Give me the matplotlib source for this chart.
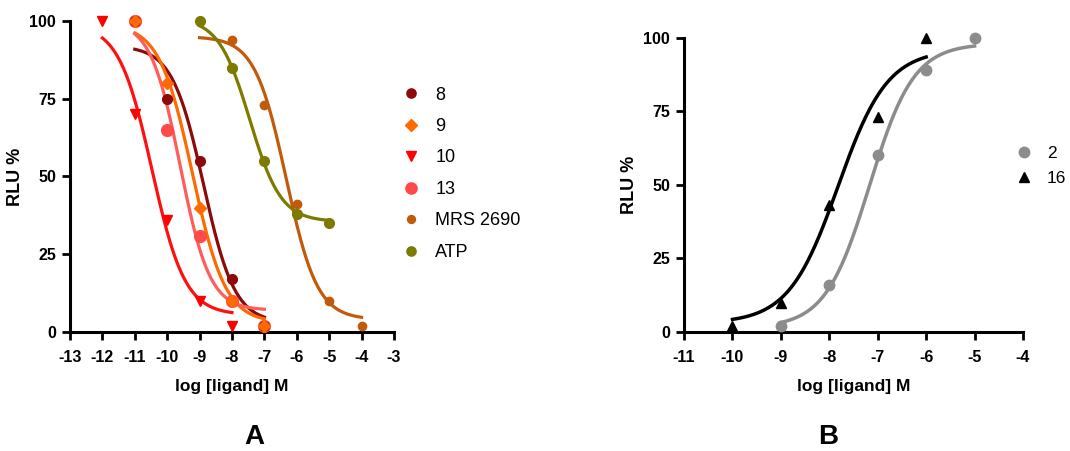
import numpy as np
import matplotlib
matplotlib.use("Agg")
import matplotlib.pyplot as plt

plt.rcParams['font.family'] = ['Liberation Sans', 'DejaVu Sans']
plt.rcParams['axes.unicode_minus'] = False

# ---------------- Panel A data ----------------
a_labels = ["8", "9", "10", "13", "MRS 2690", "ATP"]
a_x = {
    "8": [-11, -10, -9, -8, -7],
    "9": [-11, -10, -9, -8, -7],
    "10": [-12, -11, -10, -9, -8],
    "13": [-11, -10, -9, -8, -7],
    "MRS 2690": [-8, -7, -6, -5, -4],
    "ATP": [-9, -8, -7, -6, -5],
}
a_y = {
    "8": [100, 75, 55, 17, 2],
    "9": [100, 80, 40, 10, 2],
    "10": [100, 70, 36, 10, 2],
    "13": [100, 65, 31, 10, 2],
    "MRS 2690": [94, 73, 41, 10, 2],
    "ATP": [100, 85, 55, 38, 35],
}
# fitted 4PL curve parameters: bottom, top, logIC50, hill slope, x-start, x-end
a_fit = {
    "8": [3, 92, -8.88, -0.9, -11, -7],
    "9": [3, 99, -9.22, -0.85, -11, -7],
    "10": [5.5, 99, -10.47, -0.85, -12, -8],
    "13": [7, 100, -9.6, -0.95, -11, -7],
    "MRS 2690": [4, 95, -6.33, -0.9, -9, -4],
    "ATP": [35.5, 101, -7.45, -0.9, -9, -5],
}
a_colors = {
    "8": "#8b0a0a", "9": "#ff6a00", "10": "#ff0000", "13": "#ff4a4a",
    "MRS 2690": "#c25a0c", "ATP": "#7d7a00",
}
a_line_colors = {
    "8": "#8b0a0a", "9": "#ff6a00", "10": "#ff1010", "13": "#ff5c5c",
    "MRS 2690": "#c25a0c", "ATP": "#7d7a00",
}
a_markers = {"8": "o", "9": "D", "10": "v", "13": "o", "MRS 2690": "o", "ATP": "o"}
a_msize = {"8": 7, "9": 6, "10": 7.5, "13": 8.5, "MRS 2690": 6, "ATP": 7}
a_zorder = {"8": 3.1, "9": 3.4, "10": 3.2, "13": 3.0, "MRS 2690": 3.3, "ATP": 3.3}

# ---------------- Panel B data ----------------
b_labels = ["2", "16"]
b_x = {"2": [-9, -8, -7, -6, -5], "16": [-10, -9, -8, -7, -6]}
b_y = {"2": [2, 16, 60, 89, 100], "16": [2, 10, 43, 73, 100]}
b_fit = {
    "2": [1.5, 98, -7.17, 0.95, -9, -5],
    "16": [3, 96, -7.82, 0.85, -10, -6],
}
b_colors = {"2": "#8c8c8c", "16": "#000000"}
b_markers = {"2": "o", "16": "^"}
b_msize = {"2": 7.5, "16": 7.5}


def logistic(x, bottom, top, logc, hill):
    return bottom + (top - bottom) / (1 + 10 ** ((logc - x) * hill))


def style_axes(ax, xlim, xticks):
    ax.set_xlim(*xlim)
    ax.set_ylim(0, 100)
    ax.set_xticks(xticks)
    ax.set_yticks([0, 25, 50, 75, 100])
    for s in ["top", "right"]:
        ax.spines[s].set_visible(False)
    for s in ["left", "bottom"]:
        ax.spines[s].set_linewidth(2.2)
    ax.tick_params(direction="out", length=6, width=2, labelsize=11.5)
    ax.tick_params(axis="x", pad=7)
    ax.tick_params(axis="y", pad=4)
    for lab in ax.get_xticklabels() + ax.get_yticklabels():
        lab.set_fontweight("bold")
    ax.set_xlabel("log [ligand] M", fontsize=12.5, fontweight="bold", labelpad=10)
    ax.set_ylabel("RLU %", fontsize=13, fontweight="bold", labelpad=4)


fig = plt.figure(figsize=(10.7, 4.51), dpi=100)

axA = fig.add_axes([0.0654, 0.2639, 0.3028, 0.6895])
axB = fig.add_axes([0.6393, 0.2639, 0.3168, 0.6525])

for lab in a_labels:
    b, t, c, h, x0, x1 = a_fit[lab]
    xs = np.linspace(x0, x1, 200)
    axA.plot(xs, logistic(xs, b, t, c, h), color=a_line_colors[lab], lw=2.3, zorder=2)
for lab in a_labels:
    axA.plot(a_x[lab], a_y[lab], linestyle="none", marker=a_markers[lab],
             ms=a_msize[lab], color=a_colors[lab], label=lab, clip_on=False,
             zorder=a_zorder[lab])

style_axes(axA, (-13, -3), list(range(-13, -2)))
axA.legend(loc="upper left", bbox_to_anchor=(0.3607, 0.844), bbox_transform=fig.transFigure,
           frameon=False, fontsize=13, labelspacing=0.80, handletextpad=0.83,
           handlelength=1.0, markerscale=0.95)

for lab in b_labels:
    b, t, c, h, x0, x1 = b_fit[lab]
    xs = np.linspace(x0, x1, 200)
    axB.plot(xs, logistic(xs, b, t, c, h), color=b_colors[lab], lw=2.5, zorder=2)
for lab in b_labels:
    axB.plot(b_x[lab], b_y[lab], linestyle="none", marker=b_markers[lab],
             ms=b_msize[lab], color=b_colors[lab], label=lab, clip_on=False, zorder=3)

style_axes(axB, (-11, -4), list(range(-11, -3)))
axB.legend(loc="upper left", bbox_to_anchor=(0.9347, 0.712), bbox_transform=fig.transFigure,
           frameon=False, fontsize=12.5, labelspacing=0.6, handletextpad=0.8,
           handlelength=1.0, markerscale=1.0)

fig.text(0.238, 0.031, "A", fontsize=20, fontweight="bold", ha="center", va="center")
fig.text(0.774, 0.031, "B", fontsize=20, fontweight="bold", ha="center", va="center")

fig.savefig("out.png", dpi=100)
